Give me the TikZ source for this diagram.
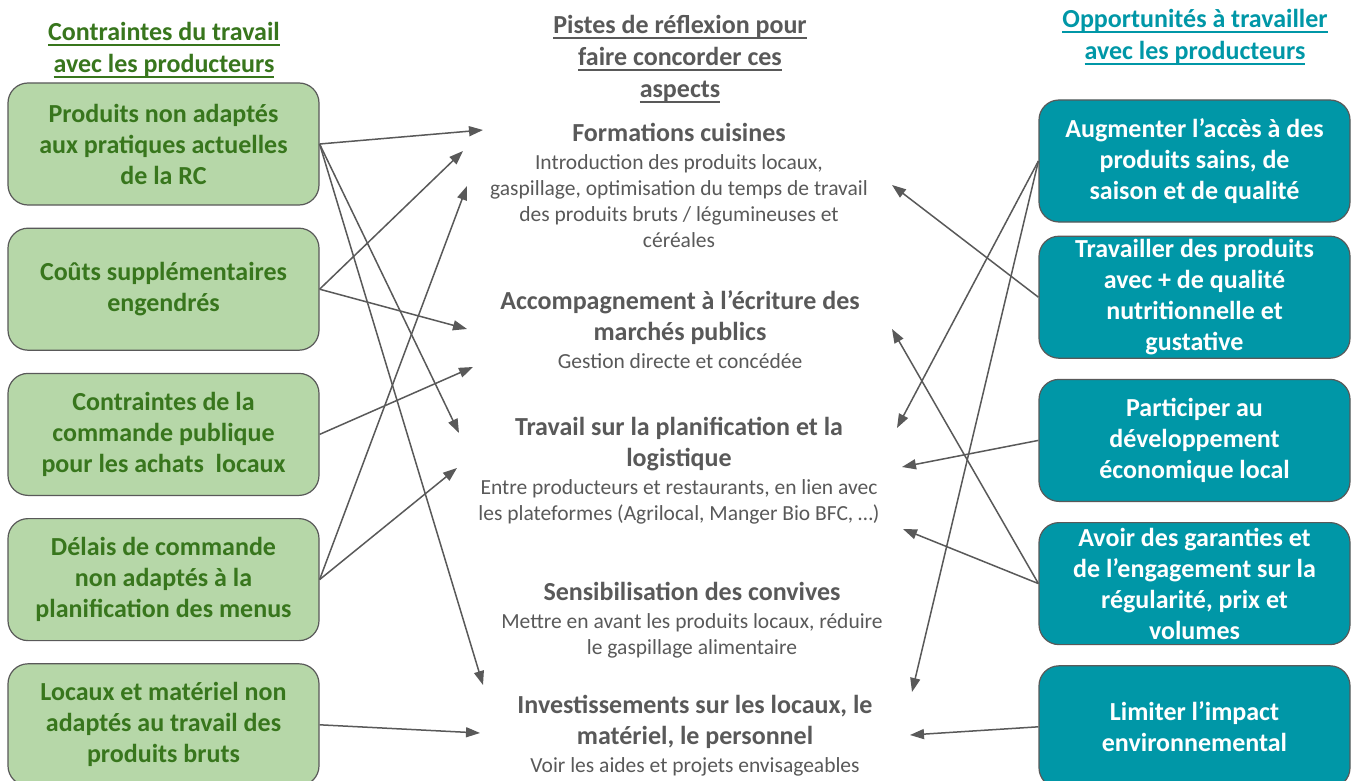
\documentclass[tikz,border=0pt]{standalone}
\usepackage{fontspec}
\setmainfont{Carlito}
\usepackage{tikz}
\usetikzlibrary{arrows.meta,positioning}

\definecolor{leafgreen}{HTML}{B6D7A8}
\definecolor{darkleaf}{HTML}{38761D}
\definecolor{tealbox}{HTML}{0097A7}
\definecolor{greytext}{HTML}{595959}

\newcommand{\bigbold}{\fontsize{26}{31}\selectfont\bfseries}
\newcommand{\smalltxt}{\fontsize{21.5}{26}\selectfont}
\newcommand{\headfont}{\fontsize{26}{32}\selectfont\bfseries}
\newcommand{\firstline}{\rule{0pt}{21pt}}
\newsavebox{\ulbox}
\newcommand{\souligne}[1]{\sbox{\ulbox}{#1}\rlap{\rule[-5.5pt]{\wd\ulbox}{1.6pt}}\usebox{\ulbox}}

\begin{document}
\begin{tikzpicture}[
  x=1pt, y=-1pt,
  node distance=22pt,
  contrainte/.style={draw=greytext, line width=1.2pt, rounded corners=20pt,
              fill=leafgreen, text=darkleaf, font=\bigbold, align=center,
              inner sep=0pt, minimum width=311pt, minimum height=122pt,
              execute at begin node={\rule{0pt}{24.5pt}}},
  opportunite/.style={contrainte, fill=tealbox, text=white},
  piste/.style={anchor=north, align=center, inner sep=0pt, text=greytext, font=\smalltxt},
  titre/.style={anchor=north, align=center, inner sep=0pt, font=\headfont},
  fleche/.style={-{Triangle[length=14pt,width=10pt]}, draw=greytext, line width=1.5pt}
]
\fill[white] (0,0) rectangle (1357,781);
\useasboundingbox (0,0) rectangle (1357,781);

% column headers
\node[titre, text=darkleaf] (htitreg) at (164,19)
  {\firstline\souligne{Contraintes du travail}\\\souligne{avec les producteurs}};
\node[titre, text=greytext] (htitrem) at (680,12)
  {\firstline\souligne{Pistes de réflexion pour}\\\souligne{faire concorder ces}\\\souligne{aspects}};
\node[titre, text=tealbox] (htitred) at (1195,6)
  {\firstline\souligne{Opportunités à travailler}\\\souligne{avec les producteurs}};

% constraints (left)
\node[contrainte] (produits) at (163.5,144) {Produits non adaptés\\aux pratiques actuelles\\de la RC};
\node[contrainte, below=of produits] (couts)    {Coûts supplémentaires\\engendrés};
\node[contrainte, below=of couts]    (commande) {Contraintes de la\\commande publique\\pour les achats\ \ locaux};
\node[contrainte, below=of commande] (delais)   {Délais de commande\\non adaptés à la\\planification des menus};
\node[contrainte, below=of delais]   (locaux)   {Locaux et matériel non\\adaptés au travail des\\produits bruts};

% opportunities (right)
\node[opportunite] (acces) at (1194.5,161) {Augmenter l’accès à des\\produits sains, de\\saison et de qualité};
\node[opportunite, below=13pt of acces]   (qualite)    {Travailler des produits\\avec + de qualité\\nutritionnelle et\\gustative};
\node[opportunite, below=20pt of qualite] (economie)   {Participer au\\développement\\économique local};
\node[opportunite, below=20pt of economie] (garanties) {Avoir des garanties et\\de l’engagement sur la\\régularité, prix et\\volumes};
\node[opportunite, below=20pt of garanties] (impact)   {Limiter l’impact\\environnemental};

% tracks (middle)
\node[piste] (formations) at (679,120)
  {\firstline{\bigbold Formations cuisines}\\[2pt]Introduction des produits locaux,\\gaspillage, optimisation du temps de travail\\des produits bruts / légumineuses et\\céréales};
\node[piste] (marches) at (680,288)
  {\firstline{\bigbold Accompagnement à l’écriture des}\\[5pt]{\bigbold marchés publics}\\[2pt]Gestion directe et concédée};
\node[piste] (logistique) at (679,414)
  {\firstline{\bigbold Travail sur la planification et la}\\[5pt]{\bigbold logistique}\\[2pt]Entre producteurs et restaurants, en lien avec\\les plateformes (Agrilocal, Manger Bio BFC, …)};
\node[piste] (convives) at (692,579)
  {\firstline{\bigbold Sensibilisation des convives}\\[2pt]Mettre en avant les produits locaux, réduire\\le gaspillage alimentaire};
\node[piste] (invest) at (695,692)
  {\firstline{\bigbold Investissements sur les locaux, le}\\[5pt]{\bigbold matériel, le personnel}\\[2pt]Voir les aides et projets envisageables};

% arrow ends around the tracks
\coordinate (formA) at (483,130);
\coordinate (formB) at (463,151);
\coordinate (formC) at (467,186);
\coordinate (formD) at (892,185);
\coordinate (marchA) at (467,329);
\coordinate (marchB) at (473,367);
\coordinate (marchC) at (892,329);
\coordinate (logA) at (459,433);
\coordinate (logB) at (457,468);
\coordinate (logC) at (897,428);
\coordinate (logD) at (902,467);
\coordinate (logE) at (903,529);
\coordinate (invA) at (483,685);
\coordinate (invB) at (480,733);
\coordinate (invC) at (912,692);
\coordinate (invD) at (910,735);

\draw[fleche] (produits.east) -- (formA);
\draw[fleche] (produits.east) -- (logA);
\draw[fleche] (produits.east) -- (invA);
\draw[fleche] (couts.east)    -- (formB);
\draw[fleche] (couts.east)    -- (marchA);
\draw[fleche] (commande.east) -- (marchB);
\draw[fleche] (delais.east)   -- (formC);
\draw[fleche] (delais.east)   -- (logB);
\draw[fleche] (locaux.east)   -- (invB);

\draw[fleche] (acces.west)     -- (logC);
\draw[fleche] (acces.west)     -- (invC);
\draw[fleche] (qualite.west)   -- (formD);
\draw[fleche] (economie.west)  -- (logD);
\draw[fleche] (garanties.west) -- (marchC);
\draw[fleche] (garanties.west) -- (logE);
\draw[fleche] (impact.west)    -- (invD);
\end{tikzpicture}
\end{document}
